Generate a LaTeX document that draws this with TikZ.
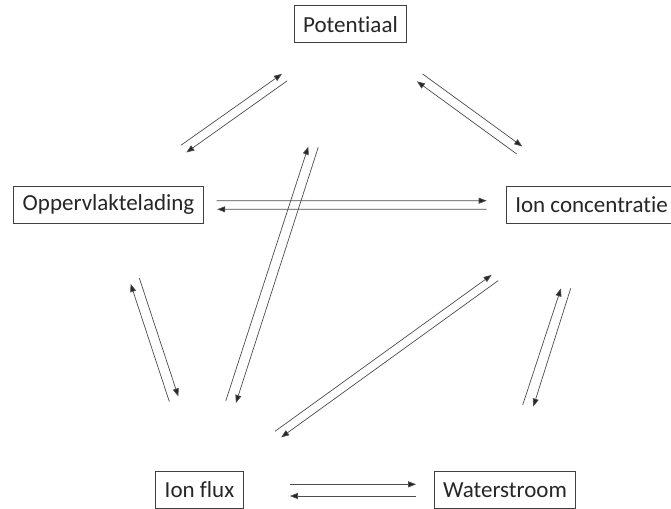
\documentclass[tikz,border=0pt]{standalone}
\usepackage{fontspec}
\setmainfont{Carlito}[Ligatures=NoCommon]
\usetikzlibrary{arrows.meta,calc,positioning}
\definecolor{boxcolor}{rgb}{0.25,0.25,0.25}
\tikzset{
	block/.style={
		rectangle,
		draw=boxcolor,
		line width=1pt,
		fill=white,
		text=black!85,
		minimum height=37pt,
		inner xsep=9pt,
		font=\fontsize{23}{27}\selectfont,
		text centered
	},
	arrow/.style={
		draw=black!70,
		line width=0.7pt,
		->,
		>={Triangle[length=8pt,width=6pt,fill=black!85]}
	},
}

\begin{document}
\begin{tikzpicture}[x=1pt,y=1pt]
		\useasboundingbox (0,0) rectangle (671,-508);
		\node (potentiaal) [block] at (350.5,-24.5) {Potentiaal};
		\node (oppervlak) [block] at (108.5,-204.5) {Oppervlaktelading};
		\node (ionconc) [block] at (591.5,-204.5) {Ion concentratie};
		\node (ionflux) [block] at (199.5,-490) {Ion flux};
		\node (water) [block] at (505,-490) {Waterstroom};
		
		% oppervlaktelading <-> potentiaal
		\draw [arrow] ($(oppervlak)!0.31!(potentiaal)!4.3pt!90:(potentiaal)$) -- ($(oppervlak)!0.72!(potentiaal)!1.3pt!90:(potentiaal)$);
		\draw [arrow] ($(oppervlak)!0.72!(potentiaal)!-7.4pt!90:(potentiaal)$) -- ($(oppervlak)!0.31!(potentiaal)!-4.7pt!90:(potentiaal)$);
		% potentiaal <-> ion concentratie
		\draw [arrow] ($(potentiaal)!0.29!(ionconc)!3.5pt!90:(ionconc)$) -- ($(potentiaal)!0.70!(ionconc)!5.1pt!90:(ionconc)$);
		\draw [arrow] ($(potentiaal)!0.70!(ionconc)!-4.3pt!90:(ionconc)$) -- ($(potentiaal)!0.29!(ionconc)!-5.8pt!90:(ionconc)$);
		% oppervlaktelading <-> ion concentratie
		\draw [arrow] ($(oppervlak)!0.224!(ionconc)!3.8pt!90:(ionconc)$) -- ($(oppervlak)!0.783!(ionconc)!3.8pt!90:(ionconc)$);
		\draw [arrow] ($(oppervlak)!0.783!(ionconc)!-4.8pt!90:(ionconc)$) -- ($(oppervlak)!0.225!(ionconc)!-4.8pt!90:(ionconc)$);
		% ion flux <-> potentiaal
		\draw [arrow] ($(ionflux)!0.19!(potentiaal)!2.5pt!90:(potentiaal)$) -- ($(ionflux)!0.736!(potentiaal)!2.5pt!90:(potentiaal)$);
		\draw [arrow] ($(ionflux)!0.741!(potentiaal)!-7.2pt!90:(potentiaal)$) -- ($(ionflux)!0.192!(potentiaal)!-7.8pt!90:(potentiaal)$);
		% ion flux <-> ion concentratie
		\draw [arrow] ($(ionflux)!0.197!(ionconc)!3pt!90:(ionconc)$) -- ($(ionflux)!0.748!(ionconc)!1.9pt!90:(ionconc)$);
		\draw [arrow] ($(ionflux)!0.752!(ionconc)!-6.6pt!90:(ionconc)$) -- ($(ionflux)!0.20!(ionconc)!-5.5pt!90:(ionconc)$);
		% oppervlaktelading <-> ion flux
		\draw [arrow] ($(oppervlak)!0.265!(ionflux)!7pt!90:(ionflux)$) -- ($(oppervlak)!0.681!(ionflux)!8.2pt!90:(ionflux)$);
		\draw [arrow] ($(oppervlak)!0.688!(ionflux)!-1.9pt!90:(ionflux)$) -- ($(oppervlak)!0.275!(ionflux)!-3pt!90:(ionflux)$);
		% ion concentratie <-> waterstroom
		\draw [arrow] ($(ionconc)!0.289!(water)!4.4pt!90:(water)$) -- ($(ionconc)!0.705!(water)!2.9pt!90:(water)$);
		\draw [arrow] ($(ionconc)!0.71!(water)!-7.7pt!90:(water)$) -- ($(ionconc)!0.299!(water)!-4.9pt!90:(water)$);
		% ion flux <-> waterstroom
		\draw [arrow] ($(ionflux)!0.296!(water)!5.7pt!90:(water)$) -- ($(ionflux)!0.709!(water)!5.7pt!90:(water)$);
		\draw [arrow] ($(ionflux)!0.709!(water)!-6pt!90:(water)$) -- ($(ionflux)!0.296!(water)!-6pt!90:(water)$);
		
		\end{tikzpicture}
\end{document}
